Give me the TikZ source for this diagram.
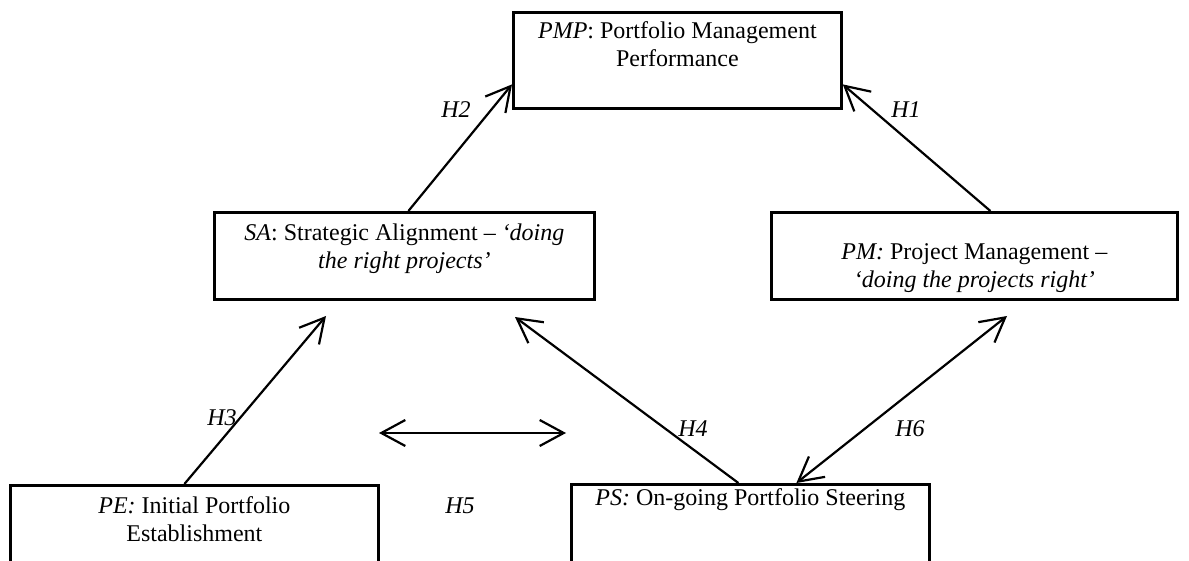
\documentclass[tikz,border=0pt]{standalone}
\usepackage{fontspec}
\setmainfont{Liberation Serif}
\usetikzlibrary{arrows.meta,positioning}

\begin{document}
\begin{tikzpicture}[x=0.5pt, y=-0.5pt,
  font=\fontsize{12pt}{14pt}\selectfont,
  box/.style={draw, line width=1.4pt, anchor=north west, inner sep=0pt},
  boxtext/.style={align=center, inner sep=0pt, anchor=north},
  hyp/.style={line width=1.1pt, -{Straight Barb[length=12pt,width=13pt]}},
  hypboth/.style={line width=1.1pt, {Straight Barb[length=12pt,width=13pt]}-{Straight Barb[length=12pt,width=13pt]}},
  hlabel/.style={font=\fontsize{12pt}{14pt}\selectfont\itshape, inner sep=0pt}]

  \clip (0,0) rectangle (1189,561);

  % Boxes
  \node[box, minimum width=164pt, minimum height=48pt] (pmp) at (512,11) {};
  \node[box, minimum width=190pt, minimum height=43.5pt] (sa) at (213,211) {};
  \node[box, minimum width=203pt, minimum height=43.5pt] (pm) at (770,211) {};
  \node[box, minimum width=184pt, minimum height=60pt] (pe) at (9,484) {};
  \node[box, minimum width=179pt, minimum height=60pt] (ps) at (570,483) {};

  % Box texts
  \node[boxtext, below=5pt of pmp.north] (pmptext) {\textit{PMP}: Portfolio Management\\Performance};
  \node[boxtext, below=6pt of sa.north] (satext) {\textit{SA}: Strategic Alignment -- \textit{`doing}\\\textit{the right projects'}};
  \node[boxtext, below=16pt of pm.north] (pmtext) {\textit{PM:} Project Management --\\\textit{`doing the projects right'}};
  \node[boxtext, below=6pt of pe.north] (petext) {\textit{PE:} Initial Portfolio\\Establishment};
  \node[boxtext, below=2.5pt of ps.north] (pstext) {\textit{PS:} On-going Portfolio Steering};

  % Free arrow ends
  \coordinate (h3tip) at (326,316);
  \coordinate (h4tip) at (515,317);
  \coordinate (h6tip) at (1007,316);
  \coordinate (h5left) at (379,433);
  \coordinate (h5right) at (566,433);

  % Hypotheses
  \draw[hyp] ([xshift=2pt]sa.north) -- ([yshift=-12pt]pmp.west);
  \draw[hyp] ([xshift=8pt]pm.north) -- ([yshift=-12pt]pmp.east);
  \draw[hyp] ([xshift=-5pt]pe.north) -- (h3tip);
  \draw[hyp] ([xshift=-6pt]ps.north) -- (h4tip);
  \draw[hypboth] (h5left) -- (h5right);
  \draw[hypboth] (h6tip) -- ([xshift=23pt]ps.north);

  % Labels
  \node[hlabel] (h1) at (906,110) {H1};
  \node[hlabel] (h2) at (456,110) {H2};
  \node[hlabel] (h3) at (222,418) {H3};
  \node[hlabel] (h4) at (693,429) {H4};
  \node[hlabel] (h5) at (460,506) {H5};
  \node[hlabel] (h6) at (910,429) {H6};

\end{tikzpicture}
\end{document}
